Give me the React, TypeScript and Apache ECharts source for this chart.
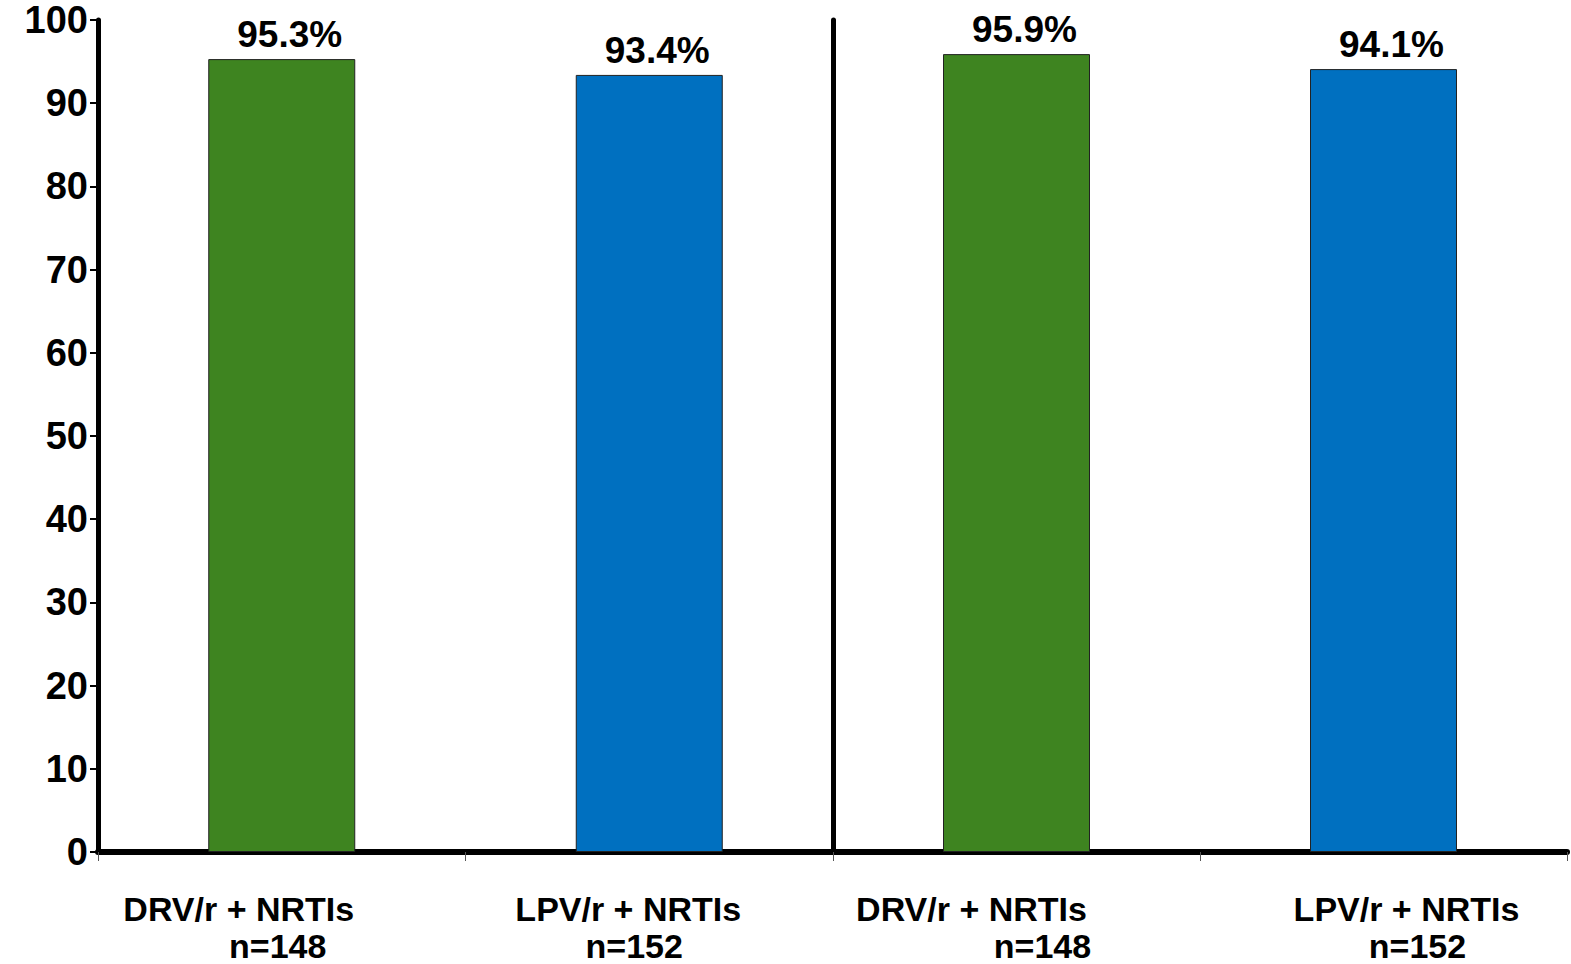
import React, { useEffect, useRef } from "react";
import * as echarts from "echarts";

// Two treatment arms, shown in two side-by-side panels
const drugs = ["DRV/r + NRTIs", "LPV/r + NRTIs"];
const leftCounts = ["n=148", "n=152"];
const rightCounts = ["n=148", "n=152"];
const leftValues = [95.3, 93.4];
const rightValues = [95.9, 94.1];
const yTicks = [0, 10, 20, 30, 40, 50, 60, 70, 80, 90, 100];

const GREEN = "#3E8420";
const BLUE = "#0070C0";
const FONT = "'Liberation Sans', Arial, sans-serif";

// horizontal nudges for the two label lines under each bar [line1, line2]
const leftShift = [
  [-43, -4],
  [-21, -15],
];
const rightShift = [
  [-45, 26],
  [23, 34],
];

function pad(d: number) {
  return d >= 0 ? [0, 0, 0, 2 * d] : [0, -2 * d, 0, 0];
}

function richFor(shifts: number[][]) {
  const rich: Record<string, any> = {};
  shifts.forEach((s, i) => {
    rich["a" + i] = {
      fontFamily: FONT,
      fontWeight: "bold",
      fontSize: 34,
      color: "#000",
      lineHeight: 37,
      align: "center",
      padding: pad(s[0]),
    };
    rich["b" + i] = {
      fontFamily: FONT,
      fontWeight: "bold",
      fontSize: 34,
      color: "#000",
      lineHeight: 38,
      align: "center",
      padding: pad(s[1]),
    };
  });
  return rich;
}

export default function App() {
  const ref = useRef<HTMLDivElement>(null);

  useEffect(() => {
    if (!ref.current) return;
    const chart = echarts.init(ref.current, undefined, { renderer: "svg" });

    const xAxisBase = (counts: string[], shifts: number[][], gridIndex: number) => ({
      type: "category",
      gridIndex,
      data: drugs,
      axisLine: { show: true, lineStyle: { color: "#000", width: 6 } },
      axisTick: { show: true, length: 9, lineStyle: { color: "#555", width: 1 } },
      axisLabel: {
        margin: 38,
        interval: 0,
        formatter: (v: string, i: number) => `{a${i}|${v}}\n{b${i}|${counts[i]}}`,
        rich: richFor(shifts),
      },
    });

    const barLabel = {
      show: true,
      position: "top",
      distance: 6,
      offset: [8, 0],
      formatter: (p: any) => p.value.toFixed(1) + "%",
      fontFamily: FONT,
      fontWeight: "bold",
      fontSize: 37,
      color: "#000",
    };

    chart.setOption({
      animation: false,
      backgroundColor: "#fff",
      grid: [
        { left: 98, top: 20, width: 735, bottom: 112 },
        { left: 833, top: 20, right: 4, bottom: 112 },
      ],
      xAxis: [
        xAxisBase(leftCounts, leftShift, 0),
        xAxisBase(rightCounts, rightShift, 1),
      ],
      yAxis: [
        {
          type: "value",
          gridIndex: 0,
          min: 0,
          max: 100,
          interval: 10,
          splitLine: { show: false },
          axisLine: { show: true, lineStyle: { color: "#000", width: 5 } },
          axisTick: { show: true, length: 8, lineStyle: { color: "#000", width: 2 } },
          axisLabel: {
            margin: 10,
            fontFamily: FONT,
            fontWeight: "bold",
            fontSize: 38,
            lineHeight: 34,
            color: "#000",
            formatter: (v: number) => (yTicks.includes(v) ? String(v) : ""),
          },
        },
        {
          type: "value",
          gridIndex: 1,
          min: 0,
          max: 100,
          interval: 10,
          splitLine: { show: false },
          axisLine: { show: true, lineStyle: { color: "#000", width: 5 } },
          axisTick: { show: false },
          axisLabel: { show: false },
        },
      ],
      series: [
        {
          type: "bar",
          xAxisIndex: 0,
          yAxisIndex: 0,
          barWidth: 147,
          data: leftValues.map((v, i) => ({
            value: v,
            itemStyle: { color: i === 0 ? GREEN : BLUE, borderColor: "#222", borderWidth: 1 },
          })),
          label: barLabel,
        },
        {
          type: "bar",
          xAxisIndex: 1,
          yAxisIndex: 1,
          barWidth: 147,
          data: rightValues.map((v, i) => ({
            value: v,
            itemStyle: { color: i === 0 ? GREEN : BLUE, borderColor: "#222", borderWidth: 1 },
          })),
          label: barLabel,
        },
      ],
    });

    return () => chart.dispose();
  }, []);

  return (
    <div
      ref={ref}
      style={{ position: "fixed", left: 0, top: 0, width: 1571, height: 964, background: "#fff" }}
    />
  );
}
